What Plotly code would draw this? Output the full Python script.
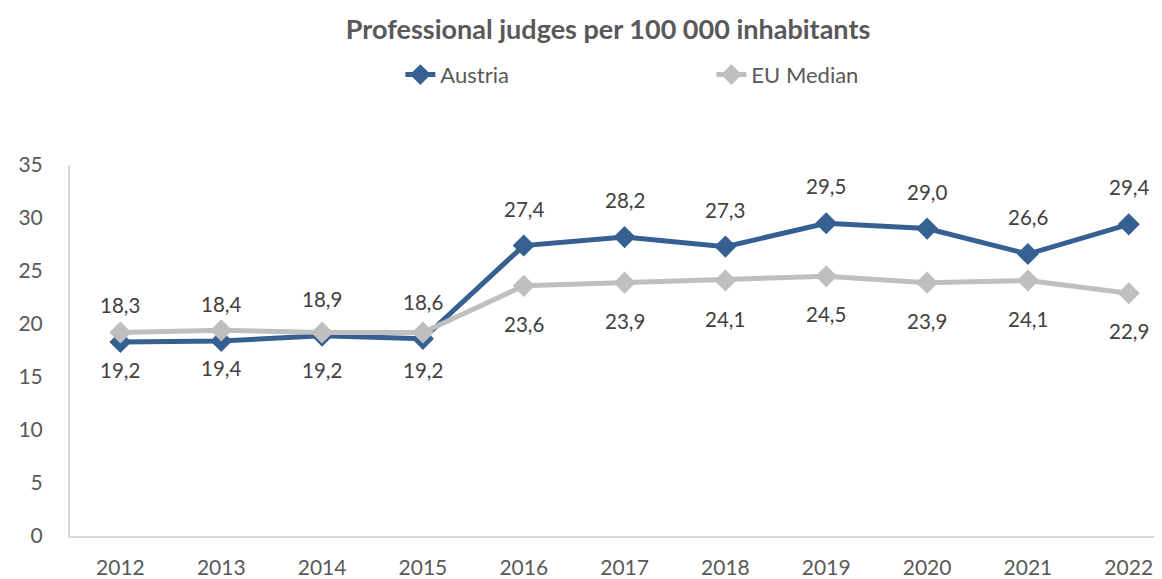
import plotly.graph_objects as go

years = [2012, 2013, 2014, 2015, 2016, 2017, 2018, 2019, 2020, 2021, 2022]
austria = [18.3, 18.4, 18.9, 18.6, 27.4, 28.2, 27.3, 29.5, 29.0, 26.6, 29.4]
eu_median = [19.2, 19.4, 19.2, 19.2, 23.6, 23.9, 24.1, 24.5, 23.9, 24.1, 22.9]
y_ticks = [0, 5, 10, 15, 20, 25, 30, 35]

BLUE = "#376092"
GREY = "#BFBFBF"
FONT = "Lato, Open Sans, sans-serif"


def fmt(v):
    # Komma als Dezimaltrennzeichen
    return f"{v:.1f}".replace(".", ",")


fig = go.Figure()

fig.add_trace(go.Scatter(
    x=years, y=austria, name="Austria", mode="lines+markers",
    line=dict(color=BLUE, width=5),
    marker=dict(symbol="diamond", size=17, color=BLUE),
))
fig.add_trace(go.Scatter(
    x=years, y=eu_median, name="EU Median", mode="lines+markers",
    line=dict(color=GREY, width=5),
    marker=dict(symbol="diamond", size=17, color=GREY),
))

# Datenbeschriftungen: Austria oben, EU-Median unten
for yr, a, e in zip(years, austria, eu_median):
    fig.add_annotation(x=yr, y=a, xref="x", yref="y", text=fmt(a),
                       showarrow=False, yshift=37,
                       font=dict(family=FONT, size=20.5, color="#404040"))
    fig.add_annotation(x=yr, y=e, xref="x", yref="y", text=fmt(e),
                       showarrow=False, yshift=-38,
                       font=dict(family=FONT, size=20.5, color="#404040"))

fig.update_layout(
    width=1154, height=571,
    paper_bgcolor="white", plot_bgcolor="white",
    margin=dict(l=62, r=0, t=157, b=38),
    font=dict(family=FONT, color="#595959"),
    title=dict(text="<b>Professional judges per 100 000 inhabitants</b>",
               x=0.52, xref="container", xanchor="center",
               y=0.9615, yref="container", yanchor="middle",
               font=dict(family=FONT, size=27, color="#595959")),
    legend=dict(orientation="h", x=0.340, xref="container", xanchor="left",
                y=0.883, yref="container", yanchor="middle",
                entrywidth=266, entrywidthmode="pixels",
                font=dict(family=FONT, size=22, color="#595959")),
    showlegend=True,
)

fig.update_xaxes(
    range=[2011.5, 2022.33], tickvals=years,
    showline=True, linecolor="#D9D9D9", linewidth=2,
    showgrid=False, zeroline=False, ticks="", ticklabelstandoff=12,
    tickfont=dict(family=FONT, size=21, color="#595959"),
)
fig.update_yaxes(
    range=[0, 35], tickvals=y_ticks,
    showline=True, linecolor="#D9D9D9", linewidth=2,
    showgrid=False, zeroline=False, ticks="", ticklabelstandoff=21,
    tickfont=dict(family=FONT, size=21, color="#595959"),
)

fig.write_html("out.html")
